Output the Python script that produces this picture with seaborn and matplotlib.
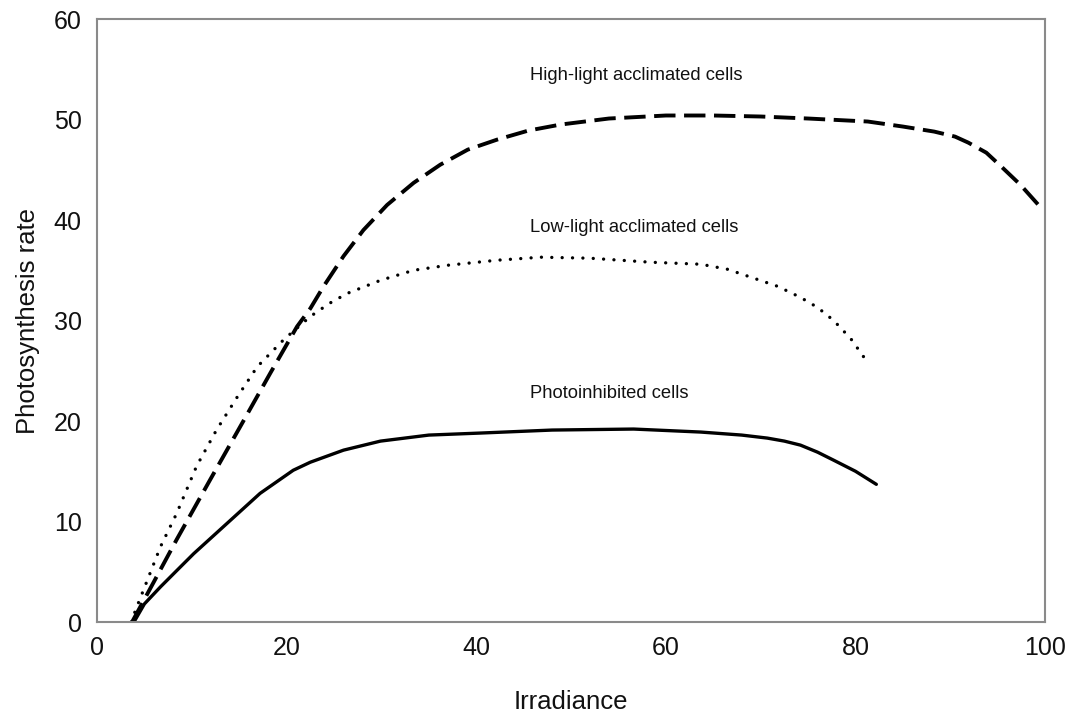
import numpy as np
import pandas as pd
import matplotlib
matplotlib.use('Agg')
import matplotlib.pyplot as plt
import seaborn as sns

# values
high_x = [3.7, 6.0, 8.4, 11.9, 15.5, 18.3, 21.1, 22.5, 23.9, 26.0, 28.1, 30.6, 33.4, 36.2, 39.1, 42.2, 45.5, 48.9, 54.0, 60.0, 65.0, 70.0, 75.0, 81.3, 85.0, 88.3, 90.5, 91.9, 93.8, 95.4, 97.4, 99.3]
high_y = [0.0, 4.0, 8.2, 14.1, 20.1, 24.8, 29.4, 31.2, 33.4, 36.4, 39.0, 41.5, 43.7, 45.5, 47.0, 48.0, 48.9, 49.5, 50.1, 50.4, 50.4, 50.3, 50.1, 49.8, 49.3, 48.8, 48.3, 47.7, 46.7, 45.3, 43.5, 41.5]

low_x = [3.6, 4.2, 6.7, 8.4, 10.5, 12.6, 14.8, 16.9, 19.7, 22.5, 24.5, 26.4, 29.9, 33.4, 37.0, 42.2, 46.8, 52.0, 58.4, 63.7, 66.5, 69.0, 71.8, 74.2, 76.0, 77.7, 79.5, 81.3]
low_y = [0.0, 1.5, 7.5, 10.8, 15.5, 19.1, 22.4, 25.4, 28.1, 30.4, 31.7, 32.7, 34.0, 35.0, 35.5, 36.0, 36.3, 36.2, 35.8, 35.6, 35.1, 34.3, 33.4, 32.3, 31.3, 30.0, 28.2, 25.8]

photo_x = [3.9, 5.0, 6.7, 8.5, 10.2, 13.7, 17.2, 20.7, 22.5, 26.0, 29.9, 35.0, 40.4, 48.0, 56.6, 63.7, 68.0, 70.7, 72.5, 74.2, 76.0, 77.7, 80.0, 82.2]
photo_y = [0.0, 1.8, 3.5, 5.2, 6.8, 9.8, 12.8, 15.1, 15.9, 17.1, 18.0, 18.6, 18.8, 19.1, 19.2, 18.9, 18.6, 18.3, 18.0, 17.6, 16.9, 16.1, 15.0, 13.7]

labels = ['High-light acclimated cells', 'Low-light acclimated cells', 'Photoinhibited cells']
label_x = [45.7, 45.7, 45.7]
label_y = [54.4, 39.3, 22.7]

sns.set_style('white')
plt.rcParams['font.family'] = ['Liberation Sans', 'DejaVu Sans']

fig = plt.figure(figsize=(10.73, 7.18), dpi=100)
ax = fig.add_axes([0.0904, 0.1337, 0.8836, 0.8398])

sns.lineplot(x=high_x, y=high_y, sort=False, ax=ax, color='black', linewidth=2.8,
             linestyle=(0, (5.5, 2.2)))
sns.lineplot(x=low_x, y=low_y, sort=False, ax=ax, color='black', linewidth=2.4,
             linestyle=(0, (0.01, 3.1)), dash_capstyle='round')
sns.lineplot(x=photo_x, y=photo_y, sort=False, ax=ax, color='black', linewidth=2.4)

for t, lx, ly in zip(labels, label_x, label_y):
    ax.text(lx, ly, t, fontsize=13.2, color='#111111', ha='left', va='center')

ax.set_xlim(0, 100)
ax.set_ylim(0, 60)
ax.set_xticks([0, 20, 40, 60, 80, 100])
ax.set_yticks([0, 10, 20, 30, 40, 50, 60])
ax.tick_params(axis='both', length=0, labelsize=18, colors='#111111')
ax.tick_params(axis='y', pad=11)
ax.tick_params(axis='x', pad=10)
ax.set_xlabel('Irradiance', fontsize=18.5, color='#111111', labelpad=22)
ax.set_ylabel('Photosynthesis rate', fontsize=18.5, color='#111111', labelpad=10)
for s in ax.spines.values():
    s.set_color('#8a8a8a')
    s.set_linewidth(1.5)
    s.set_visible(True)

plt.savefig('out.png', dpi=100)
